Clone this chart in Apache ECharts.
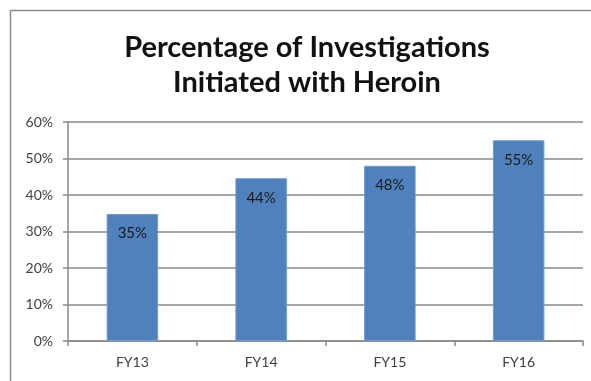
<!DOCTYPE html>
<html><head><meta charset="utf-8">
<script src="https://cdn.jsdelivr.net/npm/echarts@6/dist/echarts.min.js"></script>
<style>html,body{margin:0;padding:0;background:#fff}#c{width:591px;height:381px}</style>
</head><body><div id="c"></div>
<script>
const titleText = "Percentage of Investigations\nInitiated with Heroin";
const categories = ["FY13", "FY14", "FY15", "FY16"];
const values = [34.8, 44.6, 48.0, 55.0];
const valueLabels = ["35%", "44%", "48%", "55%"];
const yTicks = [0, 10, 20, 30, 40, 50, 60];

const chart = echarts.init(document.getElementById('c'), null, {renderer: 'canvas'});
chart.setOption({
  animation: false,
  backgroundColor: '#fff',
  graphic: [{
    type: 'rect', shape: {x: 10.5, y: 10.5, width: 700, height: 500},
    style: {fill: 'none', stroke: '#8c8c8c', lineWidth: 1.5}, silent: true
  }],
  title: {
    text: titleText, left: 302, textAlign: 'center', top: 25,
    textStyle: {fontFamily: 'Lato', fontWeight: 'bold', fontSize: 29, color: '#111', lineHeight: 35}
  },
  grid: {left: 68, right: 8, top: 122, bottom: 40},
  xAxis: {
    type: 'category', data: categories,
    axisLine: {lineStyle: {color: '#8a8a8a', width: 1.5}},
    axisTick: {show: true, length: 5, alignWithLabel: false, lineStyle: {color: '#8a8a8a', width: 1.5}},
    axisLabel: {color: '#404040', fontFamily: 'Lato', fontSize: 14, margin: 14}
  },
  yAxis: {
    type: 'value', min: 0, max: 60, interval: 10,
    axisLine: {show: true, lineStyle: {color: '#8a8a8a', width: 1.5}},
    axisTick: {show: true, length: 5, lineStyle: {color: '#8a8a8a', width: 1.5}},
    splitLine: {lineStyle: {color: '#8a8a8a', width: 1.5}},
    axisLabel: {color: '#404040', fontFamily: 'Lato', fontSize: 14, margin: 15,
      formatter: v => yTicks.includes(v) ? v + '%' : ''}
  },
  series: [{
    type: 'bar', data: values, barWidth: '40%',
    itemStyle: {color: '#4F81BD', borderColor: '#6f9ad0', borderWidth: 1},
    label: {show: true, position: 'insideTop', distance: 12,
      formatter: p => valueLabels[p.dataIndex],
      color: '#1a1a1a', fontFamily: 'Lato', fontSize: 15}
  }]
});
</script></body></html>
